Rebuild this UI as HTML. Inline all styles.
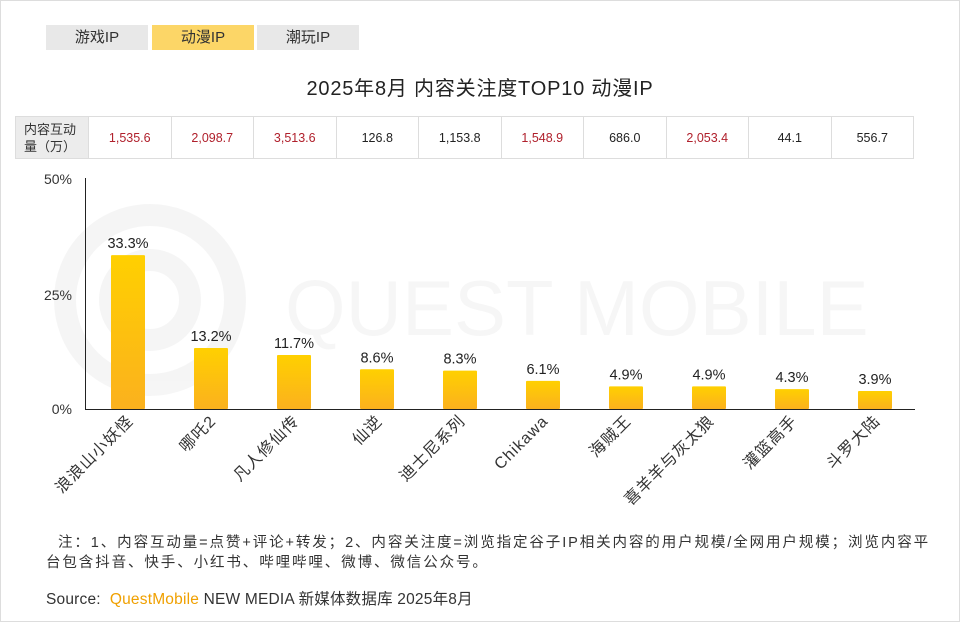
<!DOCTYPE html>
<html><head><meta charset="utf-8"><style>
body{margin:0;width:960px;height:622px;background:#fff;font-family:"Liberation Sans","Noto Sans CJK SC",sans-serif;position:relative;overflow:hidden}
.b{position:absolute;left:0;top:0;width:958px;height:620px;border:1px solid #ddd}
.tab{position:absolute;top:25px;height:25px;width:102px;background:#e8e8e8;text-align:center;line-height:25px;font-size:15px;color:#333}
.title{position:absolute;top:72px;left:0;width:960px;text-align:center;font-size:20px;color:#222;letter-spacing:0.8px}
table{position:absolute;left:15px;top:116px;border-collapse:collapse;font-size:12.5px;table-layout:fixed;width:898px}
td{border:1px solid #ddd;height:41px;text-align:center;color:#222;padding:0}
td.r{color:#b0202c}
td.h{background:#ececec;font-size:13px;text-align:left;padding-left:8px;line-height:17px;color:#333}
.n{position:absolute;font-size:14.5px;color:#333;letter-spacing:1.9px;white-space:nowrap}
</style></head><body><div class="b"></div>
<div class="tab" style="left:46px">游戏IP</div>
<div class="tab" style="left:152px;background:#fcd667">动漫IP</div>
<div class="tab" style="left:257px">潮玩IP</div>
<div class="title">2025年8月 内容关注度TOP10 动漫IP</div>
<table><colgroup><col style="width:73px"><col span="10" style="width:82.5px"></colgroup><tr><td class="h">内容互动<br>量（万）</td><td class="r">1,535.6</td><td class="r">2,098.7</td><td class="r">3,513.6</td><td>126.8</td><td>1,153.8</td><td class="r">1,548.9</td><td>686.0</td><td class="r">2,053.4</td><td>44.1</td><td>556.7</td></tr></table>
<svg width="960" height="622" style="position:absolute;left:0;top:0">
<defs><linearGradient id="g" x1="0" y1="0" x2="0" y2="1"><stop offset="0" stop-color="#ffd000"/><stop offset="1" stop-color="#fbb11e"/></linearGradient></defs>
<g opacity="0.035" fill="none" stroke="#000" stroke-width="22"><circle cx="150" cy="300" r="85"/><circle cx="150" cy="300" r="40"/></g>
<text x="285" y="335" font-size="78" fill="#000" opacity="0.03" font-family="Liberation Sans">QUEST MOBILE</text>
<g font-size="14" fill="#333" text-anchor="end"><text x="72" y="184">50%</text><text x="72" y="300">25%</text><text x="72" y="414">0%</text></g>
<line x1="85.5" y1="178" x2="85.5" y2="409" stroke="#222"/><line x1="85" y1="409.5" x2="915" y2="409.5" stroke="#222"/>
<g id="bars"></g></svg>
<script>
var v=[33.3,13.2,11.7,8.6,8.3,6.1,4.9,4.9,4.3,3.9],n=["浪浪山小妖怪","哪吒2","凡人修仙传","仙逆","迪士尼系列","Chikawa","海贼王","喜羊羊与灰太狼","灌篮高手","斗罗大陆"],s="";
for(var i=0;i<10;i++){var c=128+83*i,h=v[i]*4.62,t=409-h;
s+='<rect x="'+(c-17)+'" y="'+t+'" width="34" height="'+h+'" fill="url(#g)" rx="1"/>';
s+='<text x="'+c+'" y="'+(t-7)+'" font-size="14.5" fill="#222" text-anchor="middle">'+v[i].toFixed(1)+'%</text>';
s+='<text transform="translate('+(c+6)+',422) rotate(-45)" font-size="16" fill="#333" text-anchor="end" letter-spacing="1">'+n[i]+'</text>';}
document.getElementById("bars").innerHTML=s;
</script>
<div class="n" style="left:58px;top:531px">注：1、内容互动量=点赞+评论+转发；2、内容关注度=浏览指定谷子IP相关内容的用户规模/全网用户规模；浏览内容平</div>
<div class="n" style="left:46px;top:551px">台包含抖音、快手、小红书、哔哩哔哩、微博、微信公众号。</div>
<div class="n" style="left:46px;top:587px;font-size:15.5px;letter-spacing:0.2px">Source:&nbsp; <span style="color:#f0a000">QuestMobile</span> NEW MEDIA 新媒体数据库 2025年8月</div>
</body></html>
